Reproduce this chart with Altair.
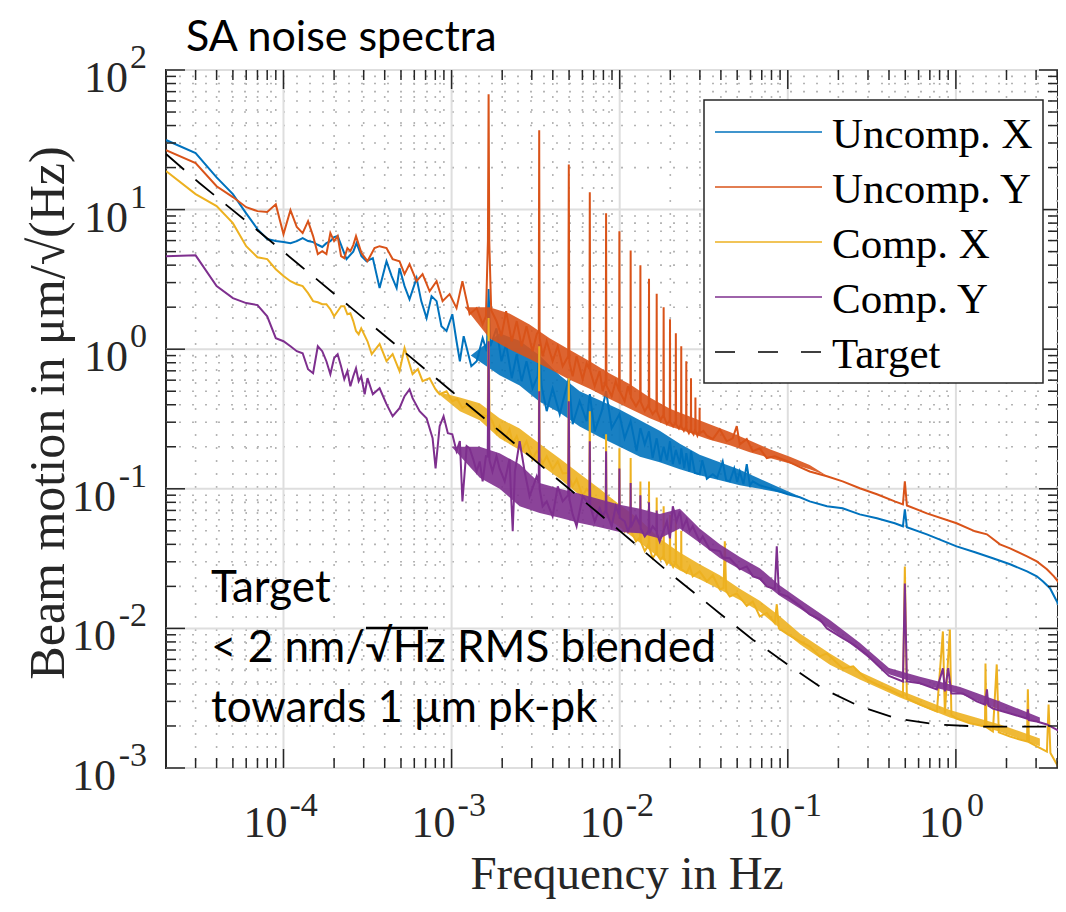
import altair as alt
import pandas as pd

# ---------------- values ----------------
UNCOMP_X = [
    (2e-5, 31.5), (3e-5, 25.4), (4e-5, 17.0), (5e-5, 12.9), (6e-5, 9.4), (7e-5, 7.25),
    (8e-5, 6.15), (9e-5, 5.95), (1.0e-4, 5.85), (1.1e-4, 5.75), (1.2e-4, 5.95), (1.3e-4, 6.25),
    (1.4e-4, 5.95), (1.5e-4, 5.85), (1.6e-4, 5.6), (1.7e-4, 5.4), (1.8e-4, 5.75), (1.9e-4, 5.95),
    (2.0e-4, 6.35), (2.1e-4, 6.46), (2.37e-4, 4.42), (2.6e-4, 5.0), (2.72e-4, 5.75), (2.91e-4, 4.64),
    (3.12e-4, 4.27), (3.4e-4, 4.49), (3.73e-4, 2.74), (4.1e-4, 4.27), (4.4e-4, 3.34), (4.71e-4, 2.74),
    (4.9e-4, 3.81), (5.25e-4, 2.83), (5.62e-4, 2.28), (6.19e-4, 3.23), (6.6e-4, 2.21), (7.1e-4, 1.67),
    (7.6e-4, 2.40), (8.14e-4, 2.21), (8.7e-4, 1.46), (9.33e-4, 1.35), (1.01e-3, 1.78), (1.07e-3, 1.14),
    (1.12e-3, 0.82), (1.18e-3, 1.24), (1.23e-3, 1.02), (1.31e-3, 0.755), (1.41e-3, 0.82), (1.53e-3, 1.2),
    (1.62e-3, 0.968), (1.66e-3, 2.7), (1.70e-3, 1.05), (1.85e-3, 1.41), (1.98e-3, 0.82), (2.11e-3, 1.09),
    (2.28e-3, 0.62), (2.44e-3, 0.92), (2.61e-3, 0.59), (2.79e-3, 0.82), (3.03e-3, 0.525), (3.25e-3, 0.64),
    (3.32e-3, 1.09), (3.43e-3, 0.543), (3.68e-3, 0.36), (3.99e-3, 0.525), (4.40e-3, 0.342), (4.71e-3, 0.476),
    (4.98e-3, 0.62), (5.25e-3, 0.29), (5.78e-3, 0.424), (6.36e-3, 0.305), (6.64e-3, 0.476), (7.10e-3, 0.258),
    (7.82e-3, 0.36), (8.30e-3, 0.50), (8.96e-3, 0.272), (9.96e-3, 0.342), (1.07e-2, 0.23), (1.162e-2, 0.305),
    (1.26e-2, 0.186), (1.328e-2, 0.272), (1.41e-2, 0.208), (1.494e-2, 0.258), (1.57e-2, 0.166), (1.66e-2, 0.23),
    (1.75e-2, 0.157), (1.826e-2, 0.20), (1.91e-2, 0.16), (1.992e-2, 0.219), (2.07e-2, 0.150), (2.158e-2, 0.19),
    (2.28e-2, 0.15), (2.324e-2, 0.195), (2.42e-2, 0.14), (2.49e-2, 0.18), (2.6e-2, 0.133), (2.656e-2, 0.186),
    (2.8e-2, 0.13), (2.99e-2, 0.127), (3.10e-2, 0.16), (3.30e-2, 0.118), (3.58e-2, 0.127), (3.8e-2, 0.12),
    (4.10e-2, 0.157), (4.3e-2, 0.115), (4.52e-2, 0.113), (4.8e-2, 0.14), (5.0e-2, 0.112), (5.18e-2, 0.133),
    (5.45e-2, 0.108), (5.70e-2, 0.15), (5.95e-2, 0.106), (6.19e-2, 0.113), (6.81e-2, 0.106), (7.81e-2, 0.101),
    (0.1, 0.0914), (0.118, 0.087), (0.135, 0.0813), (0.171, 0.0749), (0.212, 0.0725), (0.268, 0.0656),
    (0.339, 0.0615), (0.433, 0.0566), (0.484, 0.0539), (0.497, 0.0713), (0.511, 0.053), (0.672, 0.0472),
    (1.01, 0.0387), (1.30, 0.0351), (1.66, 0.0318), (2.10, 0.0288), (2.65, 0.0256), (3.03, 0.0236),
    (3.30, 0.0217), (3.63, 0.0194), (3.99, 0.0156), (4.28, 0.0132), (4.52, 0.0122),
]

UNCOMP_Y = [
    (2e-5, 26.7), (3e-5, 21.5), (4e-5, 14.7), (5e-5, 12.3), (6e-5, 10.4), (7e-5, 9.75),
    (8e-5, 9.6), (9e-5, 10.9), (1.0e-4, 6.67), (1.1e-4, 9.92), (1.2e-4, 7.5), (1.3e-4, 6.79),
    (1.4e-4, 8.27), (1.5e-4, 6.46), (1.6e-4, 4.8), (1.7e-4, 5.04), (1.8e-4, 4.8), (1.9e-4, 6.79),
    (2.0e-4, 5.95), (2.1e-4, 6.46), (2.2e-4, 4.64), (2.3e-4, 4.49), (2.4e-4, 5.3), (2.5e-4, 5.04),
    (2.6e-4, 5.57), (2.7e-4, 6.46), (2.91e-4, 4.88), (3.16e-4, 4.27), (3.48e-4, 5.3), (3.73e-4, 5.47),
    (4.10e-4, 5.3), (4.46e-4, 4.42), (4.90e-4, 4.27), (5.25e-4, 3.45), (5.62e-4, 4.07), (6.19e-4, 3.07),
    (6.72e-4, 3.45), (7.40e-4, 2.60), (8.14e-4, 3.07), (8.84e-4, 2.21), (9.73e-4, 2.48), (1.07e-3, 1.97),
    (1.16e-3, 3.07), (1.28e-3, 1.78), (1.41e-3, 1.97), (1.53e-3, 1.51), (1.60e-3, 1.72),
    (1.645e-3, 6.0), (1.66e-3, 67.0), (1.675e-3, 6.0), (1.72e-3, 1.9),
    (1.85e-3, 1.59), (1.98e-3, 1.24), (2.11e-3, 1.87), (2.28e-3, 1.14), (2.44e-3, 1.59), (2.61e-3, 1.05),
    (2.79e-3, 1.46), (3.03e-3, 0.968), (3.21e-3, 1.28),
    (3.30e-3, 1.35), (3.32e-3, 37.0), (3.34e-3, 1.2),
    (3.48e-3, 0.891), (3.68e-3, 1.14), (3.99e-3, 0.82), (4.28e-3, 1.05), (4.58e-3, 0.755),
    (4.94e-3, 0.891), (4.98e-3, 21.0), (5.02e-3, 0.8),
    (5.25e-3, 0.64), (5.54e-3, 0.891), (6.02e-3, 0.61), (6.36e-3, 0.79),
    (6.60e-3, 0.72), (6.64e-3, 13.3), (6.68e-3, 0.7),
    (7.10e-3, 0.543), (7.60e-3, 0.696), (7.92e-3, 0.5),
    (8.26e-3, 0.6), (8.30e-3, 9.4), (8.34e-3, 0.55),
    (8.96e-3, 0.461), (9.47e-3, 0.59),
    (9.92e-3, 0.5), (9.96e-3, 7.0), (1.0e-2, 0.5),
    (1.07e-2, 0.424), (1.12e-2, 0.543),
    (1.158e-2, 0.47), (1.162e-2, 5.1), (1.166e-2, 0.45),
    (1.25e-2, 0.39),
    (1.323e-2, 0.44), (1.328e-2, 4.0), (1.333e-2, 0.42),
    (1.41e-2, 0.36),
    (1.489e-2, 0.40), (1.494e-2, 3.2), (1.50e-2, 0.38),
    (1.57e-2, 0.342),
    (1.655e-2, 0.37), (1.66e-2, 2.5), (1.665e-2, 0.36),
    (1.75e-2, 0.31),
    (1.82e-2, 0.34), (1.826e-2, 2.0), (1.832e-2, 0.33),
    (1.91e-2, 0.29),
    (1.986e-2, 0.31), (1.992e-2, 1.64), (1.998e-2, 0.30),
    (2.08e-2, 0.28),
    (2.152e-2, 0.30), (2.158e-2, 1.3), (2.164e-2, 0.29),
    (2.25e-2, 0.27),
    (2.318e-2, 0.29), (2.324e-2, 1.05), (2.33e-2, 0.28),
    (2.41e-2, 0.26),
    (2.484e-2, 0.28), (2.49e-2, 0.82), (2.496e-2, 0.27),
    (2.58e-2, 0.25),
    (2.65e-2, 0.27), (2.656e-2, 0.62), (2.662e-2, 0.26),
    (2.75e-2, 0.245),
    (2.816e-2, 0.27), (2.822e-2, 0.45), (2.828e-2, 0.26),
    (2.9e-2, 0.24),
    (2.982e-2, 0.26), (2.988e-2, 0.38), (2.994e-2, 0.25),
    (3.15e-2, 0.26), (3.30e-2, 0.24), (3.58e-2, 0.227), (3.94e-2, 0.267), (4.33e-2, 0.219), (4.7e-2, 0.23),
    (4.97e-2, 0.281), (5.18e-2, 0.208), (5.70e-2, 0.227), (6.19e-2, 0.186), (6.81e-2, 0.195), (7.50e-2, 0.166),
    (8.37e-2, 0.171), (0.1, 0.157), (0.118, 0.143), (0.135, 0.133), (0.171, 0.123), (0.212, 0.113),
    (0.268, 0.101), (0.339, 0.0914), (0.433, 0.0813), (0.484, 0.0774), (0.497, 0.113), (0.511, 0.076),
    (0.672, 0.0667), (1.01, 0.0566), (1.30, 0.0496), (1.53, 0.0472), (1.83, 0.04), (2.10, 0.0374),
    (2.65, 0.0328), (3.03, 0.0302), (3.48, 0.0265), (3.83, 0.0236), (4.16, 0.0207), (4.52, 0.0175),
]

COMP_X = [
    (2e-5, 18.9), (3e-5, 12.9), (4e-5, 10.6), (5e-5, 8.0), (6e-5, 5.47), (7e-5, 4.56),
    (8e-5, 4.42), (9e-5, 3.74), (1.0e-4, 3.34), (1.1e-4, 3.07), (1.2e-4, 2.92), (1.3e-4, 2.83),
    (1.4e-4, 2.52), (1.5e-4, 2.21), (1.6e-4, 2.17), (1.7e-4, 2.10), (1.8e-4, 2.10), (1.9e-4, 1.93),
    (2.0e-4, 1.72), (2.1e-4, 1.87), (2.2e-4, 2.03), (2.3e-4, 2.03), (2.4e-4, 1.78), (2.5e-4, 1.81),
    (2.6e-4, 1.59), (2.7e-4, 1.35), (2.8e-4, 1.28), (2.9e-4, 1.41), (3.16e-4, 1.14), (3.35e-4, 0.921),
    (3.73e-4, 1.09), (4.10e-4, 0.82), (4.46e-4, 0.921), (4.90e-4, 0.696), (5.25e-4, 1.02), (5.86e-4, 0.662),
    (6.30e-4, 0.72), (6.72e-4, 0.59), (7.40e-4, 0.62), (8.0e-4, 0.52), (8.49e-4, 0.476), (9.33e-4, 0.50),
    (1.01e-3, 0.424), (1.08e-3, 0.44), (1.16e-3, 0.378), (1.25e-3, 0.40), (1.33e-3, 0.36), (1.47e-3, 0.34),
    (1.64e-3, 0.33), (1.66e-3, 1.67), (1.68e-3, 0.33),
    (1.75e-3, 0.305), (1.85e-3, 0.25), (1.93e-3, 0.281), (2.07e-3, 0.227), (2.21e-3, 0.267), (2.31e-3, 0.212),
    (2.44e-3, 0.238), (2.61e-3, 0.186), (2.79e-3, 0.219), (3.03e-3, 0.163), (3.21e-3, 0.186),
    (3.30e-3, 0.18), (3.32e-3, 1.05), (3.34e-3, 0.17),
    (3.48e-3, 0.152), (3.68e-3, 0.171), (3.99e-3, 0.138), (4.28e-3, 0.157), (4.58e-3, 0.129),
    (4.94e-3, 0.13), (4.98e-3, 0.62), (5.02e-3, 0.12),
    (5.25e-3, 0.104), (5.54e-3, 0.117), (6.02e-3, 0.0884), (6.36e-3, 0.0997),
    (6.60e-3, 0.095), (6.64e-3, 0.36), (6.68e-3, 0.09),
    (7.10e-3, 0.0749), (7.60e-3, 0.0813), (7.92e-3, 0.0636),
    (8.26e-3, 0.075), (8.30e-3, 0.246), (8.34e-3, 0.07),
    (8.96e-3, 0.0585), (9.47e-3, 0.0667),
    (9.92e-3, 0.062), (9.96e-3, 0.195), (1.0e-2, 0.058),
    (1.07e-2, 0.0496), (1.12e-2, 0.0566),
    (1.158e-2, 0.054), (1.162e-2, 0.166), (1.166e-2, 0.05),
    (1.25e-2, 0.042),
    (1.323e-2, 0.045), (1.328e-2, 0.113), (1.333e-2, 0.042),
    (1.41e-2, 0.0358),
    (1.489e-2, 0.04), (1.494e-2, 0.113), (1.50e-2, 0.038),
    (1.57e-2, 0.0318),
    (1.655e-2, 0.035), (1.66e-2, 0.0865), (1.665e-2, 0.034),
    (1.75e-2, 0.031),
    (1.82e-2, 0.033), (1.826e-2, 0.075), (1.832e-2, 0.032),
    (1.91e-2, 0.0288),
    (1.986e-2, 0.031), (1.992e-2, 0.065), (1.998e-2, 0.03),
    (2.08e-2, 0.0275),
    (2.152e-2, 0.03), (2.158e-2, 0.0615), (2.164e-2, 0.029),
    (2.28e-2, 0.0269),
    (2.318e-2, 0.027), (2.324e-2, 0.05), (2.33e-2, 0.0265),
    (2.50e-2, 0.0249), (2.61e-2, 0.0278), (2.72e-2, 0.0236), (2.99e-2, 0.0256), (3.30e-2, 0.0217),
    (3.58e-2, 0.024), (3.94e-2, 0.019), (4.15e-2, 0.0195), (4.22e-2, 0.042), (4.30e-2, 0.0185),
    (4.52e-2, 0.0169), (4.97e-2, 0.0178), (5.70e-2, 0.0145), (6.19e-2, 0.0156), (6.81e-2, 0.0122),
    (7.50e-2, 0.0129), (8.37e-2, 0.0109), (8.6e-2, 0.0149), (8.85e-2, 0.0100), (0.1, 0.00906),
    (0.118, 0.00807), (0.135, 0.00743), (0.155, 0.0063), (0.171, 0.00662), (0.212, 0.00517),
    (0.245, 0.00534), (0.295, 0.00431), (0.339, 0.00397), (0.40, 0.00366), (0.484, 0.00326),
    (0.497, 0.0278), (0.511, 0.00315), (0.611, 0.00285), (0.771, 0.00254), (0.837, 0.00951),
    (0.86, 0.00246), (0.921, 0.0098), (0.94, 0.00239), (1.01, 0.00226), (1.21, 0.00209),
    (1.49, 0.00198), (1.50, 0.00561), (1.52, 0.00196), (1.66, 0.00183), (1.75, 0.00552),
    (1.80, 0.0018), (2.10, 0.00168), (2.40, 0.0016), (2.65, 0.00155), (2.68, 0.00366),
    (2.72, 0.00153), (3.03, 0.00143), (3.48, 0.00131), (3.56, 0.00285), (3.65, 0.00128),
    (3.99, 0.00106), (4.28, 0.00094), (4.52, 0.00085),
]

COMP_Y = [
    (2e-5, 4.64), (3e-5, 4.7), (4e-5, 2.83), (5e-5, 2.32), (6e-5, 2.14), (7e-5, 2.07),
    (8e-5, 1.72), (9e-5, 1.2), (1.0e-4, 1.14), (1.1e-4, 1.05), (1.2e-4, 0.968), (1.3e-4, 0.936),
    (1.4e-4, 0.719), (1.5e-4, 0.673), (1.6e-4, 1.05), (1.7e-4, 0.968), (1.8e-4, 0.82), (1.9e-4, 0.662),
    (2.0e-4, 0.862), (2.1e-4, 0.921), (2.2e-4, 0.755), (2.3e-4, 0.61), (2.4e-4, 0.696), (2.5e-4, 0.543),
    (2.6e-4, 0.64), (2.7e-4, 0.731), (2.8e-4, 0.59), (2.9e-4, 0.64), (3.04e-4, 0.476), (3.16e-4, 0.62),
    (3.4e-4, 0.476), (3.73e-4, 0.525), (4.10e-4, 0.404), (4.46e-4, 0.331), (4.90e-4, 0.378), (5.25e-4, 0.461),
    (5.62e-4, 0.516), (5.86e-4, 0.446), (6.45e-4, 0.360), (7.10e-4, 0.320), (7.71e-4, 0.230), (8.03e-4, 0.140),
    (8.49e-4, 0.281), (8.96e-4, 0.331), (9.5e-4, 0.25), (1.01e-3, 0.246), (1.07e-3, 0.186), (1.12e-3, 0.22),
    (1.16e-3, 0.0813), (1.23e-3, 0.202), (1.28e-3, 0.195), (1.35e-3, 0.16), (1.41e-3, 0.133), (1.47e-3, 0.157),
    (1.53e-3, 0.113), (1.60e-3, 0.171),
    (1.64e-3, 0.17), (1.66e-3, 1.14), (1.68e-3, 0.16),
    (1.75e-3, 0.133), (1.85e-3, 0.171), (1.93e-3, 0.14), (2.07e-3, 0.113), (2.21e-3, 0.163), (2.31e-3, 0.0496),
    (2.38e-3, 0.133), (2.54e-3, 0.219), (2.72e-3, 0.133), (2.91e-3, 0.0884), (3.03e-3, 0.101), (3.21e-3, 0.123),
    (3.30e-3, 0.11), (3.32e-3, 0.5), (3.34e-3, 0.1),
    (3.48e-3, 0.0749), (3.68e-3, 0.0813), (3.99e-3, 0.0636), (4.28e-3, 0.104), (4.58e-3, 0.0813),
    (4.94e-3, 0.09), (4.98e-3, 0.424), (5.02e-3, 0.085),
    (5.25e-3, 0.0656), (5.54e-3, 0.0539), (6.02e-3, 0.0884), (6.36e-3, 0.0813),
    (6.60e-3, 0.08), (6.64e-3, 0.219), (6.68e-3, 0.075),
    (7.10e-3, 0.0585), (7.60e-3, 0.0725), (7.92e-3, 0.0636),
    (8.26e-3, 0.07), (8.30e-3, 0.186), (8.34e-3, 0.068),
    (8.96e-3, 0.0539), (9.47e-3, 0.0749),
    (9.92e-3, 0.065), (9.96e-3, 0.14), (1.0e-2, 0.062),
    (1.07e-2, 0.0585), (1.12e-2, 0.0496),
    (1.158e-2, 0.055), (1.162e-2, 0.11), (1.166e-2, 0.053),
    (1.25e-2, 0.0636),
    (1.323e-2, 0.055), (1.328e-2, 0.09), (1.333e-2, 0.052),
    (1.41e-2, 0.0456),
    (1.489e-2, 0.05), (1.494e-2, 0.08), (1.50e-2, 0.048),
    (1.57e-2, 0.0539),
    (1.655e-2, 0.05), (1.66e-2, 0.07), (1.665e-2, 0.048),
    (1.73e-2, 0.042), (1.91e-2, 0.0585), (1.99e-2, 0.0442), (2.07e-2, 0.0749), (2.18e-2, 0.0585),
    (2.28e-2, 0.069), (2.37e-2, 0.0521), (2.50e-2, 0.0603), (2.61e-2, 0.0496), (2.72e-2, 0.0539),
    (2.99e-2, 0.042), (3.12e-2, 0.0456), (3.43e-2, 0.0369), (3.94e-2, 0.0358), (4.10e-2, 0.0322),
    (4.52e-2, 0.0318), (5.18e-2, 0.0265), (5.70e-2, 0.0278), (6.19e-2, 0.0236), (6.81e-2, 0.0228),
    (7.50e-2, 0.020), (8.37e-2, 0.0191), (8.6e-2, 0.0387), (8.85e-2, 0.0178), (0.1, 0.0169),
    (0.118, 0.0145), (0.135, 0.0126), (0.155, 0.0116), (0.171, 0.0100), (0.212, 0.0085),
    (0.245, 0.0077), (0.295, 0.00651), (0.339, 0.00552), (0.40, 0.00457), (0.484, 0.00417),
    (0.497, 0.021), (0.511, 0.00417), (0.611, 0.00404), (0.771, 0.00366), (0.837, 0.00517),
    (0.86, 0.00354), (0.90, 0.0052), (0.94, 0.00342), (1.10, 0.00342), (1.33, 0.0030),
    (1.49, 0.00285), (1.53, 0.00366), (1.56, 0.0028), (1.66, 0.00267), (2.10, 0.00246),
    (2.65, 0.00226), (2.68, 0.00263), (2.72, 0.0022), (3.03, 0.00215), (3.48, 0.00205),
    (4.16, 0.00183), (4.52, 0.00163),
]

TARGET = [
    (2e-5, 25.0), (3.16e-5, 15.5), (6.54e-5, 7.6), (1.28e-4, 3.9), (2.5e-4, 2.0), (5e-4, 1.0),
    (1e-3, 0.5), (2e-3, 0.25), (5e-3, 0.1), (1e-2, 0.05), (1.93e-2, 0.0256), (3.94e-2, 0.0128),
    (6.19e-2, 0.0083), (0.1, 0.0055), (0.162, 0.0037), (0.261, 0.0028), (0.446, 0.00226),
    (0.771, 0.00205), (1.39, 0.00198), (4.52, 0.00198),
]

# spread of the dense noise (frequency, low edge, high edge)
BAND_UNCOMP_X = [
    (1.3e-3, 0.9, 0.9), (1.93e-3, 0.65, 1.3), (2.54e-3, 0.55, 1.15), (3.34e-3, 0.42, 0.9),
    (4.40e-3, 0.35, 0.65), (5.78e-3, 0.28, 0.5), (7.60e-3, 0.235, 0.43), (1.0e-2, 0.2, 0.37),
    (1.32e-2, 0.17, 0.31), (1.73e-2, 0.155, 0.26), (2.28e-2, 0.138, 0.21), (2.99e-2, 0.125, 0.175),
    (3.94e-2, 0.115, 0.155), (5.18e-2, 0.106, 0.137), (6.81e-2, 0.1, 0.118), (8.9e-2, 0.094, 0.102),
    (0.118, 0.088, 0.088),
]
BAND_UNCOMP_Y = [
    (1.2e-3, 2.0, 2.0), (1.68e-3, 1.2, 2.0), (2.21e-3, 1.0, 1.8), (2.91e-3, 0.85, 1.5),
    (3.83e-3, 0.72, 1.2), (4.97e-3, 0.61, 1.0), (6.63e-3, 0.52, 0.82), (8.72e-3, 0.44, 0.67),
    (1.15e-2, 0.375, 0.56), (1.51e-2, 0.32, 0.45), (1.99e-2, 0.28, 0.375), (2.61e-2, 0.252, 0.33),
    (3.43e-2, 0.225, 0.29), (4.52e-2, 0.205, 0.255), (5.94e-2, 0.183, 0.222), (7.81e-2, 0.166, 0.192),
    (0.103, 0.152, 0.17), (0.135, 0.138, 0.148), (0.171, 0.124, 0.124),
]
BAND_COMP_X = [
    (8e-4, 0.5, 0.5), (1.12e-3, 0.36, 0.45), (1.47e-3, 0.31, 0.41), (1.93e-3, 0.23, 0.32),
    (2.54e-3, 0.19, 0.27), (3.34e-3, 0.15, 0.21), (4.40e-3, 0.118, 0.165), (5.78e-3, 0.09, 0.128),
    (7.60e-3, 0.067, 0.1), (1.0e-2, 0.053, 0.077), (1.32e-2, 0.041, 0.06), (1.73e-2, 0.032, 0.044),
    (2.28e-2, 0.026, 0.035), (2.99e-2, 0.0225, 0.0288), (3.94e-2, 0.019, 0.024), (5.18e-2, 0.016, 0.0192),
    (6.81e-2, 0.0132, 0.0158), (8.9e-2, 0.0101, 0.0123), (0.118, 0.0077, 0.0092), (0.178, 0.0055, 0.0066),
    (0.268, 0.0043, 0.0049), (0.464, 0.0032, 0.0036), (0.921, 0.0023, 0.0026), (1.83, 0.00182, 0.00205),
    (3.16, 0.00143, 0.00163),
]
BAND_COMP_Y = [
    (1.0e-3, 0.2, 0.2), (1.47e-3, 0.12, 0.2), (1.93e-3, 0.1, 0.18), (2.54e-3, 0.075, 0.15),
    (3.34e-3, 0.067, 0.11), (4.40e-3, 0.062, 0.1), (5.78e-3, 0.057, 0.092), (7.60e-3, 0.053, 0.084),
    (1.0e-2, 0.049, 0.077), (1.32e-2, 0.048, 0.072), (1.73e-2, 0.044, 0.066), (2.28e-2, 0.052, 0.072),
    (2.99e-2, 0.041, 0.052), (3.94e-2, 0.032, 0.04), (5.18e-2, 0.0265, 0.0325), (6.81e-2, 0.0222, 0.027),
    (8.9e-2, 0.0172, 0.0205), (0.118, 0.0139, 0.0161), (0.178, 0.0100, 0.0115), (0.268, 0.0069, 0.0079),
    (0.40, 0.0047, 0.0052), (0.611, 0.004, 0.0045), (1.06, 0.0034, 0.0038), (1.83, 0.0026, 0.003),
    (3.16, 0.0021, 0.0023),
]

SERIES_NAMES = ["Uncomp. X", "Uncomp. Y", "Comp. X", "Comp. Y", "Target"]
SERIES_COLORS = ["#0072BD", "#D95319", "#EDB120", "#7E2F8E", "#000000"]

X_DOMAIN = [2e-5, 4.05]
Y_DOMAIN = [1e-3, 1e2]
X_MAJOR = [1e-4, 1e-3, 1e-2, 1e-1, 1e0]
X_EXP = ["-4", "-3", "-2", "-1", "0"]
Y_MAJOR = [1e-3, 1e-2, 1e-1, 1e0, 1e1, 1e2]
Y_EXP = ["-3", "-2", "-1", "0", "1", "2"]
X_MINOR = [k * 10.0 ** e for e in range(-5, 1) for k in range(2, 10)
           if X_DOMAIN[0] * 1.01 < k * 10.0 ** e < X_DOMAIN[1]]
Y_MINOR = [k * 10.0 ** e for e in range(-3, 2) for k in range(2, 10)]

TITLE = "SA noise spectra"
X_TITLE = "Frequency in Hz"
Y_TITLE = "Beam motion in \u03bcm/\u221a(Hz)"
NOTE_LINES = ["Target", "< 2 nm/\u221aHz RMS blended", "towards 1 \u03bcm pk-pk"]

# ---------------- layout / style ----------------
W, H = 892, 698
AX = "#262626"
SERIF = "Liberation Serif"
SANS = "Lato"

xs = alt.Scale(type="log", domain=X_DOMAIN, nice=False)
ys = alt.Scale(type="log", domain=Y_DOMAIN, nice=False)


def X(field="f"):
    return alt.X(f"{field}:Q", scale=xs, axis=None)


def Y(field="v"):
    return alt.Y(f"{field}:Q", scale=ys, axis=None)


one = pd.DataFrame({"k": [0]})
xminor = pd.DataFrame({"f": X_MINOR})
yminor = pd.DataFrame({"v": Y_MINOR})
xmajor = pd.DataFrame({"f": X_MAJOR, "e": X_EXP})
ymajor = pd.DataFrame({"v": Y_MAJOR, "e": Y_EXP})

layers = []

# grid
minor_style = dict(color="#b4b4b4", strokeWidth=1.6, strokeDash=[2, 11])
major_style = dict(color="#dedede", strokeWidth=2)
layers.append(alt.Chart(xminor).mark_rule(**minor_style).encode(x=X(), y=alt.value(0), y2=alt.value(H)))
layers.append(alt.Chart(yminor).mark_rule(**minor_style).encode(y=Y(), x=alt.value(0), x2=alt.value(W)))
layers.append(alt.Chart(xmajor).mark_rule(**major_style).encode(x=X(), y=alt.value(0), y2=alt.value(H)))
layers.append(alt.Chart(ymajor).mark_rule(**major_style).encode(y=Y(), x=alt.value(0), x2=alt.value(W)))

# data: dense-noise spread + trace for each series
for pts, band, color in zip([UNCOMP_X, UNCOMP_Y, COMP_X, COMP_Y],
                            [BAND_UNCOMP_X, BAND_UNCOMP_Y, BAND_COMP_X, BAND_COMP_Y],
                            SERIES_COLORS[:4]):
    bdf = pd.DataFrame(band, columns=["f", "lo", "hi"])
    layers.append(alt.Chart(bdf).mark_area(color=color, opacity=0.9, clip=True)
                  .encode(x=X(), y=Y("lo"), y2="hi:Q"))
    df = pd.DataFrame(pts, columns=["f", "v"])
    layers.append(alt.Chart(df).mark_line(color=color, strokeWidth=2, clip=True).encode(x=X(), y=Y()))
tdf = pd.DataFrame(TARGET, columns=["f", "v"])
layers.append(alt.Chart(tdf).mark_line(color="#000000", strokeWidth=1.8, strokeDash=[24, 15], clip=True)
              .encode(x=X(), y=Y()))

# inward ticks on all four sides
tick_style = dict(color=AX, strokeWidth=1.5)
for df, ln in [(xmajor, 19), (xminor, 10)]:
    layers.append(alt.Chart(df).mark_rule(**tick_style).encode(x=X(), y=alt.value(H), y2=alt.value(H - ln)))
    layers.append(alt.Chart(df).mark_rule(**tick_style).encode(x=X(), y=alt.value(0), y2=alt.value(ln)))
for df, ln in [(ymajor, 19), (yminor, 10)]:
    layers.append(alt.Chart(df).mark_rule(**tick_style).encode(y=Y(), x=alt.value(0), x2=alt.value(ln)))
    layers.append(alt.Chart(df).mark_rule(**tick_style).encode(y=Y(), x=alt.value(W), x2=alt.value(W - ln)))

# tick labels: "10" with a raised exponent
lab = dict(font=SERIF, color=AX, baseline="alphabetic")
xneg = xmajor[xmajor.e.str.startswith("-")]
xpos = xmajor[~xmajor.e.str.startswith("-")]
for df, d10, dex in [(xneg, 4, 6), (xpos, 7, 11)]:
    layers.append(alt.Chart(df).mark_text(text="10", align="right", fontSize=44, dx=d10, **lab)
                  .encode(x=X(), y=alt.value(H + 69)))
    layers.append(alt.Chart(df).mark_text(align="left", fontSize=34, dx=dex, **lab)
                  .encode(x=X(), y=alt.value(H + 48), text="e:N"))
yneg = ymajor[ymajor.e.str.startswith("-")]
ypos = ymajor[~ymajor.e.str.startswith("-")]
for df, x10 in [(yneg, -50), (ypos, -38)]:
    layers.append(alt.Chart(df).mark_text(text="10", align="right", fontSize=44, dy=22, **lab)
                  .encode(y=Y(), x=alt.value(x10)))
    layers.append(alt.Chart(df).mark_text(align="right", fontSize=34, dy=-2, **lab)
                  .encode(y=Y(), x=alt.value(-19), text="e:N"))

# axis titles
layers.append(alt.Chart(one).mark_text(text=X_TITLE, font=SERIF, fontSize=47, color=AX,
                                       align="center", baseline="alphabetic")
              .encode(x=alt.value(461), y=alt.value(819)))
layers.append(alt.Chart(one).mark_text(text=Y_TITLE, font=SERIF, fontSize=50, color=AX, angle=270,
                                       align="center", baseline="alphabetic")
              .encode(x=alt.value(-102), y=alt.value(343)))

# legend
layers.append(alt.Chart(one).mark_rect(fill="white", stroke=AX, strokeWidth=1.5)
              .encode(x=alt.value(538), x2=alt.value(877), y=alt.value(30), y2=alt.value(313)))
for i, (name, color) in enumerate(zip(SERIES_NAMES, SERIES_COLORS)):
    rowy = 62 + 55 * i
    rule_kw = dict(color=color, strokeWidth=1.6)
    if name == "Target":
        rule_kw["strokeDash"] = [20, 23]
    layers.append(alt.Chart(pd.DataFrame({"name": [name]})).mark_rule(**rule_kw)
                  .encode(x=alt.value(549), x2=alt.value(656), y=alt.value(rowy)))
    layers.append(alt.Chart(pd.DataFrame({"name": [name]}))
                  .mark_text(font=SERIF, fontSize=43, color="#000000", align="left", baseline="alphabetic")
                  .encode(x=alt.value(666), y=alt.value(rowy + 16), text="name:N"))

# title and annotation
layers.append(alt.Chart(one).mark_text(text=TITLE, font=SANS, fontSize=43, color="#000000",
                                       align="left", baseline="alphabetic")
              .encode(x=alt.value(20), y=alt.value(-19)))
for i, line in enumerate(NOTE_LINES):
    layers.append(alt.Chart(pd.DataFrame({"t": [line]}))
                  .mark_text(font=SANS, fontSize=44, color="#000000", align="left", baseline="alphabetic")
                  .encode(x=alt.value(45), y=alt.value(532 + 60 * i), text="t:N"))
# vinculum of the square root over "Hz"
layers.append(alt.Chart(one).mark_rule(color="#000000", strokeWidth=2.5)
              .encode(x=alt.value(200), x2=alt.value(262), y=alt.value(558)))

chart = (
    alt.layer(*layers)
    .properties(width=W, height=H,
                padding={"left": 158, "top": 62, "right": 0, "bottom": 132},
                autosize=alt.AutoSizeParams(type="none"))
    .configure_view(stroke=AX, strokeWidth=2)
)
chart.save("out.html", embed_options={"renderer": "svg", "actions": False})
